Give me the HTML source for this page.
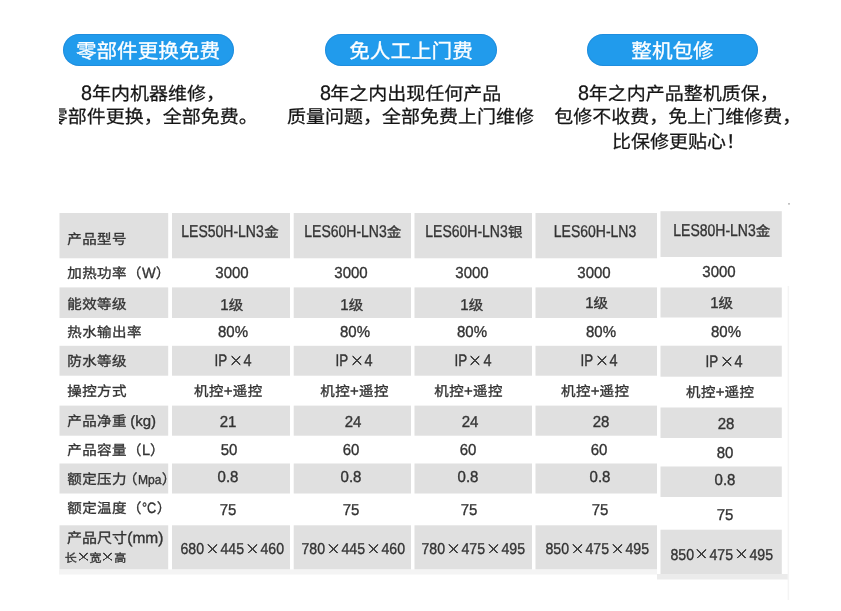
<!DOCTYPE html>
<html lang="zh-CN">
<head>
<meta charset="utf-8">
<title>规格参数</title>
<style>
html,body{margin:0;padding:0;background:#fff;}
body{text-rendering:geometricPrecision;width:841px;height:611px;position:relative;overflow:hidden;font-family:"Liberation Sans",sans-serif;}
#stage{position:absolute;left:0;top:0;width:841px;height:611px;overflow:hidden;will-change:transform;}
.t,.l,.p{position:absolute;white-space:nowrap;line-height:1;}
.t{transform:translate(-50%,-50%);color:#333;font-size:14.5px;-webkit-text-stroke:.35px #333;}
.l{transform:translate(0,-50%);color:#333;font-size:14.5px;-webkit-text-stroke:.35px #333;}
i{display:inline-block;width:1em;text-align:center;font-style:normal;}
.k{display:inline-block;font-size:14.5px;transform:scaleY(.95);}
.k i{width:calc(1em + .45px);}
.kk i{width:1em;}
.k2{display:inline-block;font-size:12px;transform:scaleY(.95);}
.hc{display:inline-block;font-size:14.5px;transform:scaleY(.95);margin-left:.5px;}
.lw{display:inline-block;white-space:nowrap;}
.ls{display:inline-block;transform-origin:0 50%;}
.xw{display:inline-block;position:relative;overflow:hidden;color:transparent;-webkit-text-stroke:0 transparent;font-size:10px;line-height:1;vertical-align:baseline;background-repeat:no-repeat;background-position:center;background-image:linear-gradient(to top right,transparent calc(50% - .7px),#444 calc(50% - .6px),#444 calc(50% + .6px),transparent calc(50% + .7px)),linear-gradient(to bottom right,transparent calc(50% - .7px),#444 calc(50% - .6px),#444 calc(50% + .6px),transparent calc(50% + .7px));}
.pill{position:absolute;top:34px;height:32px;border-radius:16px;background:#219bec;box-shadow:inset 0 0 0 1px rgba(25,110,190,.3);color:#fff;font-size:20.6px;line-height:32px;text-align:center;white-space:nowrap;}
.pt{display:inline-block;transform:scaleY(.97);position:relative;top:1.7px;-webkit-text-stroke:.3px #fff;}
.p{transform:translate(0,-50%) scaleY(.96);color:#151515;font-size:19px;-webkit-text-stroke:.25px #151515;}
.e{display:inline-block;font-size:22px;line-height:0;position:relative;top:-.1px;margin-right:-1.4px;transform:scaleX(.9);transform-origin:0 50%;}
.clip{position:absolute;left:58.5px;top:0;width:300px;height:200px;overflow:hidden;}
</style>
</head>
<body>
<div id="stage">
<svg width="841" height="611" viewBox="0 0 841 611" style="position:absolute;left:0;top:0">
<g fill="#e0e0e0">
<rect x="59.5" y="213" width="108.7" height="45.3"/>
<rect x="59.5" y="287.4" width="108.7" height="30.6"/>
<rect x="59.5" y="345.8" width="108.7" height="29.9"/>
<rect x="59.5" y="405.6" width="108.7" height="30.1"/>
<rect x="59.5" y="463.5" width="108.7" height="30.0"/>
<rect x="59.5" y="525.3" width="108.7" height="44.2"/>
<rect x="172" y="213" width="118.0" height="45.3"/>
<rect x="172" y="287.4" width="118.0" height="30.6"/>
<rect x="172" y="345.8" width="118.0" height="29.9"/>
<rect x="172" y="405.6" width="118.0" height="30.1"/>
<rect x="172" y="463.5" width="118.0" height="30.0"/>
<rect x="172" y="525.3" width="118.0" height="44.2"/>
<rect x="293.7" y="213" width="117.3" height="45.3"/>
<rect x="293.7" y="287.4" width="117.3" height="30.6"/>
<rect x="293.7" y="345.8" width="117.3" height="29.9"/>
<rect x="293.7" y="405.6" width="117.3" height="30.1"/>
<rect x="293.7" y="463.5" width="117.3" height="30.0"/>
<rect x="293.7" y="525.3" width="117.3" height="44.2"/>
<rect x="414.5" y="213" width="117.5" height="45.3"/>
<rect x="414.5" y="287.4" width="117.5" height="30.6"/>
<rect x="414.5" y="345.8" width="117.5" height="29.9"/>
<rect x="414.5" y="405.6" width="117.5" height="30.1"/>
<rect x="414.5" y="463.5" width="117.5" height="30.0"/>
<rect x="414.5" y="525.3" width="117.5" height="44.2"/>
<rect x="535.5" y="213" width="121.5" height="45.3"/>
<rect x="535.5" y="287.4" width="121.5" height="30.6"/>
<rect x="535.5" y="345.8" width="121.5" height="29.9"/>
<rect x="535.5" y="405.6" width="121.5" height="30.1"/>
<rect x="535.5" y="463.5" width="121.5" height="30.0"/>
<rect x="535.5" y="525.3" width="121.5" height="44.2"/>
<rect x="660.5" y="211.2" width="121.3" height="45.8"/>
<rect x="660.5" y="287.5" width="121.3" height="30.0"/>
<rect x="660.5" y="345.7" width="121.3" height="31.0"/>
<rect x="660.5" y="407.5" width="121.3" height="30.5"/>
<rect x="660.5" y="466.5" width="121.3" height="30.5"/>
<rect x="660.5" y="529.7" width="121.3" height="44.3"/>
</g>
<rect x="59" y="569.5" width="598" height="5" fill="#f4f4f4"/>
<rect x="657" y="574" width="131" height="5.5" fill="#ebebeb"/>
<rect x="787.6" y="286" width="1.5" height="314" fill="#f4f4f4"/>
<rect x="788" y="203.4" width="2" height="1" fill="#9a9a9a"/>
</svg>
<div class="pill" style="left:62.5px;width:171px"><span class="pt"><i>零</i><i>部</i><i>件</i><i>更</i><i>换</i><i>免</i><i>费</i></span></div>
<div class="pill" style="left:325px;width:172px"><span class="pt"><i>免</i><i>人</i><i>工</i><i>上</i><i>门</i><i>费</i></span></div>
<div class="pill" style="left:586.7px;width:171.6px"><span class="pt"><i>整</i><i>机</i><i>包</i><i>修</i></span></div>
<div class="p" style="left:81.1px;top:94.9px;"><span class="e">8</span><i>年</i><i>内</i><i>机</i><i>器</i><i>维</i><i>修</i><i>，</i></div>
<div class="clip"><div class="p" style="left:-9.7px;top:118px"><i>零</i><i>部</i><i>件</i><i>更</i><i>换</i><i>，</i><i>全</i><i>部</i><i>免</i><i>费</i><i>。</i></div></div>
<div class="p" style="left:319.5px;top:94.7px;"><span class="e">8</span><i>年</i><i>之</i><i>内</i><i>出</i><i>现</i><i>任</i><i>何</i><i>产</i><i>品</i></div>
<div class="p" style="left:286.9px;top:118.0px;"><i>质</i><i>量</i><i>问</i><i>题</i><i>，</i><i>全</i><i>部</i><i>免</i><i>费</i><i>上</i><i>门</i><i>维</i><i>修</i></div>
<div class="p" style="left:577.9px;top:94.7px;"><span class="e">8</span><i>年</i><i>之</i><i>内</i><i>产</i><i>品</i><i>整</i><i>机</i><i>质</i><i>保</i><i>，</i></div>
<div class="p" style="left:554.3px;top:118.2px;"><i>包</i><i>修</i><i>不</i><i>收</i><i>费</i><i>，</i><i>免</i><i>上</i><i>门</i><i>维</i><i>修</i><i>费</i><i>，</i></div>
<div class="p" style="left:612px;top:142.7px;"><i>比</i><i>保</i><i>修</i><i>更</i><i>贴</i><i>心</i><i>！</i></div>
<div class="l " style="left:67.0px;top:240.0px;"><span class="k"><i>产</i><i>品</i><i>型</i><i>号</i></span></div>
<div class="l " style="left:67.0px;top:274.2px;"><span class="k"><i>加</i><i>热</i><i>功</i><i>率</i><i>（</i></span><span class="lw" style="width:13.73px;font-size:15px;"><span class="ls" style="transform:scaleX(0.97)">W</span></span><span class="k"><i>）</i></span></div>
<div class="l " style="left:67.0px;top:304.5px;"><span class="k"><i>能</i><i>效</i><i>等</i><i>级</i></span></div>
<div class="l " style="left:67.0px;top:333.2px;"><span class="k"><i>热</i><i>水</i><i>输</i><i>出</i><i>率</i></span></div>
<div class="l " style="left:67.0px;top:362.0px;"><span class="k"><i>防</i><i>水</i><i>等</i><i>级</i></span></div>
<div class="l " style="left:67.0px;top:392.0px;"><span class="k"><i>操</i><i>控</i><i>方</i><i>式</i></span></div>
<div class="l " style="left:67.0px;top:421.7px;"><span class="k"><i>产</i><i>品</i><i>净</i><i>重</i></span><span class="lw" style="width:25.83px;font-size:15px;margin-left:3.4px;"><span class="ls" style="transform:scaleX(1)">(kg)</span></span></div>
<div class="l " style="left:67.0px;top:450.8px;"><span class="k"><i>产</i><i>品</i><i>容</i><i>量</i><i>（</i></span><span class="lw" style="width:8.09px;font-size:15px;"><span class="ls" style="transform:scaleX(0.97)">L</span></span><span class="k"><i>）</i></span></div>
<div class="l " style="left:67.0px;top:479.7px;"><span class="k"><i>额</i><i>定</i><i>压</i><i>力</i></span><span class="k" style="margin-left:-4px"><i>（</i></span><span class="lw" style="width:23.52px;font-size:13px;margin-left:0px;"><span class="ls" style="transform:scaleX(0.93)">Mpa</span></span><span class="k" style="margin-left:.4px"><i>）</i></span></div>
<div class="l " style="left:67.0px;top:509.2px;"><span class="k"><i>额</i><i>定</i><i>温</i><i>度</i><i>（</i></span><span class="lw" style="width:14.31px;font-size:15px;margin-left:.5px;"><span class="ls" style="transform:scaleX(0.85)">°C</span></span><span class="k"><i>）</i></span></div>
<div class="l " style="left:67.0px;top:539.2px;"><span class="k kk" style="font-size:15px"><i>产</i><i>品</i><i>尺</i><i>寸</i></span><span class="lw" style="width:36.15px;font-size:15.5px;margin-left:.3px;"><span class="ls" style="transform:scaleX(1.0)">(mm)</span></span></div>
<div class="l " style="left:64.7px;top:558.2px;"><span class="k2"><i>长</i></span><span class="xw" style="width:12.8px;height:8px;background-size:9px 8px;top:-1.2px;left:0px">×</span><span class="k2"><i>宽</i></span><span class="xw" style="width:12.8px;height:8px;background-size:9px 8px;top:-1.2px;left:0px">×</span><span class="k2"><i>高</i></span></div>
<div class="t " style="left:230.1px;top:231.5px;"><span class="lw" style="width:82.34px;font-size:17px;"><span class="ls" style="transform:scaleX(0.822)">LES50H-LN3</span></span><span class="hc"><i>金</i></span></div>
<div class="t " style="left:231.8px;top:274.1px;"><span class="lw" style="width:33.39px;font-size:15.8px;"><span class="ls" style="transform:scaleX(0.95)">3000</span></span></div>
<div class="t " style="left:231.8px;top:305.6px;"><span class="lw" style="width:8.35px;font-size:15.8px;"><span class="ls" style="transform:scaleX(0.95)">1</span></span><span class="k"><i>级</i></span></div>
<div class="t " style="left:233.2px;top:333.2px;"><span class="lw" style="width:30.04px;font-size:15.8px;"><span class="ls" style="transform:scaleX(0.95)">80%</span></span></div>
<div class="t " style="left:232.6px;top:361.0px;"><span class="lw" style="width:12.70px;font-size:16.8px;margin-left:.6px;"><span class="ls" style="transform:scaleX(0.8)">IP</span></span><span class="xw" style="width:15.9px;height:9.8px;background-size:9.3px 9.8px;top:-0.5px;left:0.4px">×</span><span class="lw" style="width:8.04px;font-size:16.8px;"><span class="ls" style="transform:scaleX(0.86)">4</span></span></div>
<div class="t " style="left:228.1px;top:392.1px;"><span class="k"><i>机</i><i>控</i></span><span class="lw" style="width:8.76px;font-size:15px;"><span class="ls" style="transform:scaleX(1)">+</span></span><span class="k"><i>遥</i><i>控</i></span></div>
<div class="t " style="left:228.4px;top:422.9px;"><span class="lw" style="width:16.70px;font-size:15.8px;"><span class="ls" style="transform:scaleX(0.95)">21</span></span></div>
<div class="t " style="left:228.5px;top:450.5px;"><span class="lw" style="width:16.70px;font-size:15.8px;"><span class="ls" style="transform:scaleX(0.95)">50</span></span></div>
<div class="t " style="left:228.4px;top:478.0px;"><span class="lw" style="width:20.87px;font-size:15.8px;"><span class="ls" style="transform:scaleX(0.95)">0.8</span></span></div>
<div class="t " style="left:228.4px;top:511.0px;"><span class="lw" style="width:16.70px;font-size:15.8px;"><span class="ls" style="transform:scaleX(0.95)">75</span></span></div>
<div class="t " style="left:232.4px;top:549.8px;"><span class="lw" style="width:23.59px;font-size:15.8px;"><span class="ls" style="transform:scaleX(0.895)">680</span></span><span class="xw" style="width:16.2px;height:9.5px;background-size:9.8px 9.5px;top:-0.8px;left:0px">×</span><span class="lw" style="width:23.59px;font-size:15.8px;"><span class="ls" style="transform:scaleX(0.895)">445</span></span><span class="xw" style="width:16.2px;height:9.5px;background-size:9.8px 9.5px;top:-0.8px;left:0px">×</span><span class="lw" style="width:23.59px;font-size:15.8px;"><span class="ls" style="transform:scaleX(0.895)">460</span></span></div>
<div class="t " style="left:352.5px;top:231.5px;"><span class="lw" style="width:82.34px;font-size:17px;"><span class="ls" style="transform:scaleX(0.822)">LES60H-LN3</span></span><span class="hc"><i>金</i></span></div>
<div class="t " style="left:351.0px;top:274.1px;"><span class="lw" style="width:33.39px;font-size:15.8px;"><span class="ls" style="transform:scaleX(0.95)">3000</span></span></div>
<div class="t " style="left:351.8px;top:305.6px;"><span class="lw" style="width:8.35px;font-size:15.8px;"><span class="ls" style="transform:scaleX(0.95)">1</span></span><span class="k"><i>级</i></span></div>
<div class="t " style="left:355.2px;top:333.2px;"><span class="lw" style="width:30.04px;font-size:15.8px;"><span class="ls" style="transform:scaleX(0.95)">80%</span></span></div>
<div class="t " style="left:353.6px;top:361.0px;"><span class="lw" style="width:12.70px;font-size:16.8px;margin-left:.6px;"><span class="ls" style="transform:scaleX(0.8)">IP</span></span><span class="xw" style="width:15.9px;height:9.8px;background-size:9.3px 9.8px;top:-0.5px;left:0.4px">×</span><span class="lw" style="width:8.04px;font-size:16.8px;"><span class="ls" style="transform:scaleX(0.86)">4</span></span></div>
<div class="t " style="left:354.4px;top:392.1px;"><span class="k"><i>机</i><i>控</i></span><span class="lw" style="width:8.76px;font-size:15px;"><span class="ls" style="transform:scaleX(1)">+</span></span><span class="k"><i>遥</i><i>控</i></span></div>
<div class="t " style="left:352.5px;top:422.9px;"><span class="lw" style="width:16.70px;font-size:15.8px;"><span class="ls" style="transform:scaleX(0.95)">24</span></span></div>
<div class="t " style="left:350.9px;top:450.5px;"><span class="lw" style="width:16.70px;font-size:15.8px;"><span class="ls" style="transform:scaleX(0.95)">60</span></span></div>
<div class="t " style="left:350.5px;top:478.0px;"><span class="lw" style="width:20.87px;font-size:15.8px;"><span class="ls" style="transform:scaleX(0.95)">0.8</span></span></div>
<div class="t " style="left:350.9px;top:511.0px;"><span class="lw" style="width:16.70px;font-size:15.8px;"><span class="ls" style="transform:scaleX(0.95)">75</span></span></div>
<div class="t " style="left:353.4px;top:549.8px;"><span class="lw" style="width:23.59px;font-size:15.8px;"><span class="ls" style="transform:scaleX(0.895)">780</span></span><span class="xw" style="width:16.2px;height:9.5px;background-size:9.8px 9.5px;top:-0.8px;left:0px">×</span><span class="lw" style="width:23.59px;font-size:15.8px;"><span class="ls" style="transform:scaleX(0.895)">445</span></span><span class="xw" style="width:16.2px;height:9.5px;background-size:9.8px 9.5px;top:-0.8px;left:0px">×</span><span class="lw" style="width:23.59px;font-size:15.8px;"><span class="ls" style="transform:scaleX(0.895)">460</span></span></div>
<div class="t " style="left:473.8px;top:231.5px;"><span class="lw" style="width:82.34px;font-size:17px;"><span class="ls" style="transform:scaleX(0.822)">LES60H-LN3</span></span><span class="hc"><i>银</i></span></div>
<div class="t " style="left:471.5px;top:274.1px;"><span class="lw" style="width:33.39px;font-size:15.8px;"><span class="ls" style="transform:scaleX(0.95)">3000</span></span></div>
<div class="t " style="left:471.8px;top:305.6px;"><span class="lw" style="width:8.35px;font-size:15.8px;"><span class="ls" style="transform:scaleX(0.95)">1</span></span><span class="k"><i>级</i></span></div>
<div class="t " style="left:471.5px;top:333.2px;"><span class="lw" style="width:30.04px;font-size:15.8px;"><span class="ls" style="transform:scaleX(0.95)">80%</span></span></div>
<div class="t " style="left:472.5px;top:361.0px;"><span class="lw" style="width:12.70px;font-size:16.8px;margin-left:.6px;"><span class="ls" style="transform:scaleX(0.8)">IP</span></span><span class="xw" style="width:15.9px;height:9.8px;background-size:9.3px 9.8px;top:-0.5px;left:0.4px">×</span><span class="lw" style="width:8.04px;font-size:16.8px;"><span class="ls" style="transform:scaleX(0.86)">4</span></span></div>
<div class="t " style="left:468.4px;top:392.1px;"><span class="k"><i>机</i><i>控</i></span><span class="lw" style="width:8.76px;font-size:15px;"><span class="ls" style="transform:scaleX(1)">+</span></span><span class="k"><i>遥</i><i>控</i></span></div>
<div class="t " style="left:469.6px;top:422.9px;"><span class="lw" style="width:16.70px;font-size:15.8px;"><span class="ls" style="transform:scaleX(0.95)">24</span></span></div>
<div class="t " style="left:468.4px;top:450.5px;"><span class="lw" style="width:16.70px;font-size:15.8px;"><span class="ls" style="transform:scaleX(0.95)">60</span></span></div>
<div class="t " style="left:468.4px;top:478.0px;"><span class="lw" style="width:20.87px;font-size:15.8px;"><span class="ls" style="transform:scaleX(0.95)">0.8</span></span></div>
<div class="t " style="left:468.5px;top:511.0px;"><span class="lw" style="width:16.70px;font-size:15.8px;"><span class="ls" style="transform:scaleX(0.95)">75</span></span></div>
<div class="t " style="left:473.4px;top:549.8px;"><span class="lw" style="width:23.59px;font-size:15.8px;"><span class="ls" style="transform:scaleX(0.895)">780</span></span><span class="xw" style="width:16.2px;height:9.5px;background-size:9.8px 9.5px;top:-0.8px;left:0px">×</span><span class="lw" style="width:23.59px;font-size:15.8px;"><span class="ls" style="transform:scaleX(0.895)">475</span></span><span class="xw" style="width:16.2px;height:9.5px;background-size:9.8px 9.5px;top:-0.8px;left:0px">×</span><span class="lw" style="width:23.59px;font-size:15.8px;"><span class="ls" style="transform:scaleX(0.895)">495</span></span></div>
<div class="t " style="left:594.6px;top:232.1px;"><span class="lw" style="width:82.34px;font-size:17px;"><span class="ls" style="transform:scaleX(0.822)">LES60H-LN3</span></span></div>
<div class="t " style="left:594.0px;top:274.1px;"><span class="lw" style="width:33.39px;font-size:15.8px;"><span class="ls" style="transform:scaleX(0.95)">3000</span></span></div>
<div class="t " style="left:596.5px;top:303.8px;"><span class="lw" style="width:8.35px;font-size:15.8px;"><span class="ls" style="transform:scaleX(0.95)">1</span></span><span class="k"><i>级</i></span></div>
<div class="t " style="left:601.0px;top:333.2px;"><span class="lw" style="width:30.04px;font-size:15.8px;"><span class="ls" style="transform:scaleX(0.95)">80%</span></span></div>
<div class="t " style="left:598.6px;top:361.0px;"><span class="lw" style="width:12.70px;font-size:16.8px;margin-left:.6px;"><span class="ls" style="transform:scaleX(0.8)">IP</span></span><span class="xw" style="width:15.9px;height:9.8px;background-size:9.3px 9.8px;top:-0.5px;left:0.4px">×</span><span class="lw" style="width:8.04px;font-size:16.8px;"><span class="ls" style="transform:scaleX(0.86)">4</span></span></div>
<div class="t " style="left:595.0px;top:392.1px;"><span class="k"><i>机</i><i>控</i></span><span class="lw" style="width:8.76px;font-size:15px;"><span class="ls" style="transform:scaleX(1)">+</span></span><span class="k"><i>遥</i><i>控</i></span></div>
<div class="t " style="left:600.9px;top:422.9px;"><span class="lw" style="width:16.70px;font-size:15.8px;"><span class="ls" style="transform:scaleX(0.95)">28</span></span></div>
<div class="t " style="left:598.6px;top:450.5px;"><span class="lw" style="width:16.70px;font-size:15.8px;"><span class="ls" style="transform:scaleX(0.95)">60</span></span></div>
<div class="t " style="left:600.1px;top:478.0px;"><span class="lw" style="width:20.87px;font-size:15.8px;"><span class="ls" style="transform:scaleX(0.95)">0.8</span></span></div>
<div class="t " style="left:600.4px;top:511.0px;"><span class="lw" style="width:16.70px;font-size:15.8px;"><span class="ls" style="transform:scaleX(0.95)">75</span></span></div>
<div class="t " style="left:597.1px;top:549.8px;"><span class="lw" style="width:23.59px;font-size:15.8px;"><span class="ls" style="transform:scaleX(0.895)">850</span></span><span class="xw" style="width:16.2px;height:9.5px;background-size:9.8px 9.5px;top:-0.8px;left:0px">×</span><span class="lw" style="width:23.59px;font-size:15.8px;"><span class="ls" style="transform:scaleX(0.895)">475</span></span><span class="xw" style="width:16.2px;height:9.5px;background-size:9.8px 9.5px;top:-0.8px;left:0px">×</span><span class="lw" style="width:23.59px;font-size:15.8px;"><span class="ls" style="transform:scaleX(0.895)">495</span></span></div>
<div class="t " style="left:721.7px;top:230.9px;"><span class="lw" style="width:82.34px;font-size:17px;"><span class="ls" style="transform:scaleX(0.822)">LES80H-LN3</span></span><span class="hc"><i>金</i></span></div>
<div class="t " style="left:719.0px;top:273.4px;"><span class="lw" style="width:33.39px;font-size:15.8px;"><span class="ls" style="transform:scaleX(0.95)">3000</span></span></div>
<div class="t " style="left:721.7px;top:303.5px;"><span class="lw" style="width:8.35px;font-size:15.8px;"><span class="ls" style="transform:scaleX(0.95)">1</span></span><span class="k"><i>级</i></span></div>
<div class="t " style="left:726.0px;top:333.3px;"><span class="lw" style="width:30.04px;font-size:15.8px;"><span class="ls" style="transform:scaleX(0.95)">80%</span></span></div>
<div class="t " style="left:723.7px;top:362.0px;"><span class="lw" style="width:12.70px;font-size:16.8px;margin-left:.6px;"><span class="ls" style="transform:scaleX(0.8)">IP</span></span><span class="xw" style="width:15.9px;height:9.8px;background-size:9.3px 9.8px;top:-0.5px;left:0.4px">×</span><span class="lw" style="width:8.04px;font-size:16.8px;"><span class="ls" style="transform:scaleX(0.86)">4</span></span></div>
<div class="t " style="left:720.0px;top:393.0px;"><span class="k"><i>机</i><i>控</i></span><span class="lw" style="width:8.76px;font-size:15px;"><span class="ls" style="transform:scaleX(1)">+</span></span><span class="k"><i>遥</i><i>控</i></span></div>
<div class="t " style="left:726.2px;top:425.0px;"><span class="lw" style="width:16.70px;font-size:15.8px;"><span class="ls" style="transform:scaleX(0.95)">28</span></span></div>
<div class="t " style="left:724.8px;top:454.2px;"><span class="lw" style="width:16.70px;font-size:15.8px;"><span class="ls" style="transform:scaleX(0.95)">80</span></span></div>
<div class="t " style="left:725.1px;top:481.1px;"><span class="lw" style="width:20.87px;font-size:15.8px;"><span class="ls" style="transform:scaleX(0.95)">0.8</span></span></div>
<div class="t " style="left:725.4px;top:515.7px;"><span class="lw" style="width:16.70px;font-size:15.8px;"><span class="ls" style="transform:scaleX(0.95)">75</span></span></div>
<div class="t " style="left:721.5px;top:555.7px;"><span class="lw" style="width:23.59px;font-size:15.8px;"><span class="ls" style="transform:scaleX(0.895)">850</span></span><span class="xw" style="width:16.2px;height:9.5px;background-size:9.8px 9.5px;top:-0.8px;left:0px">×</span><span class="lw" style="width:23.59px;font-size:15.8px;"><span class="ls" style="transform:scaleX(0.895)">475</span></span><span class="xw" style="width:16.2px;height:9.5px;background-size:9.8px 9.5px;top:-0.8px;left:0px">×</span><span class="lw" style="width:23.59px;font-size:15.8px;"><span class="ls" style="transform:scaleX(0.895)">495</span></span></div>
</div>
</body>
</html>
